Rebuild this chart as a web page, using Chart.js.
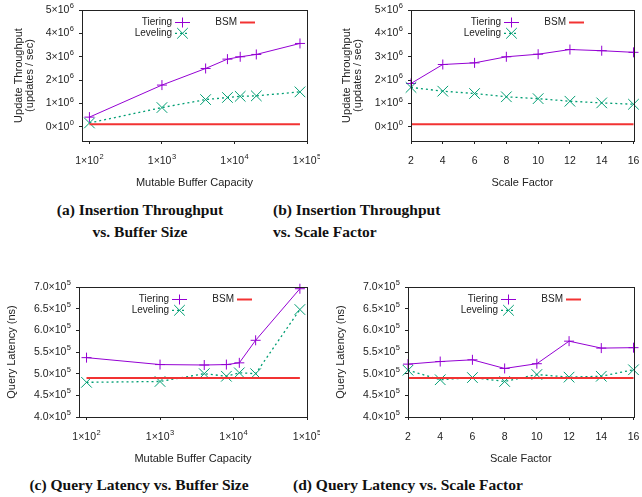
<!DOCTYPE html>
<html>
<head>
<meta charset="utf-8">
<script src="https://cdn.jsdelivr.net/npm/chart.js@4/dist/chart.umd.min.js"></script>
<style>
  body { margin: 0; background: #fff; width: 642px; height: 497px; overflow: hidden; position: relative; }
  .box { position: absolute; }
  .cap { position: absolute; font-family: "Liberation Serif", serif; font-weight: bold; font-size: 15.5px; line-height: 22px; color: #111; white-space: nowrap; }
</style>
</head>
<body>
<div class="box" style="left:0;top:0;width:320px;height:196px"><canvas id="chartA"></canvas></div>
<div class="box" style="left:320px;top:0;width:322px;height:196px"><canvas id="chartB"></canvas></div>
<div class="box" style="left:0;top:277px;width:320px;height:195px"><canvas id="chartC"></canvas></div>
<div class="box" style="left:320px;top:277px;width:322px;height:195px"><canvas id="chartD"></canvas></div>

<div class="cap" style="left:30px;top:199px;width:220px;text-align:center">(a) Insertion Throughput<br>vs. Buffer Size</div>
<div class="cap" style="left:273px;top:199px">(b) Insertion Throughput<br>vs. Scale Factor</div>
<div class="cap" style="left:19px;top:474px;width:240px;text-align:center">(c) Query Latency vs. Buffer Size</div>
<div class="cap" style="left:293px;top:474px">(d) Query Latency vs. Scale Factor</div>

<script>
// x values
const bufferSizes = [100, 1000, 4000, 8000, 12000, 20000, 80000];
const scaleFactors = [2, 4, 6, 8, 10, 12, 14, 16];

// (a) throughput vs buffer size
const tputBufTiering = [420000, 1790000, 2500000, 2900000, 3000000, 3100000, 3570000];
const tputBufLeveling = [170000, 830000, 1170000, 1260000, 1310000, 1330000, 1500000];
const tputBufBSM = [120000, 120000, 120000, 120000, 120000, 120000, 120000];

// (b) throughput vs scale factor
const tputSfTiering = [1860000, 2670000, 2740000, 3000000, 3110000, 3310000, 3260000, 3190000];
const tputSfLeveling = [1690000, 1530000, 1430000, 1290000, 1210000, 1100000, 1030000, 970000];
const tputSfBSM = [120000, 120000, 120000, 120000, 120000, 120000, 120000, 120000];

// (c) latency vs buffer size
const latBufTiering = [537000, 521000, 520000, 521000, 525000, 577000, 696000];
const latBufLeveling = [480000, 482000, 500000, 494000, 502000, 500000, 648000];
const latBufBSM = [490000, 490000, 490000, 490000, 490000, 490000, 490000];

// (d) latency vs scale factor
const latSfTiering = [522000, 528000, 532000, 512000, 523000, 575000, 559000, 560000];
const latSfLeveling = [508000, 486000, 491000, 482000, 498000, 492000, 494000, 509000];
const latSfBSM = [490000, 490000, 490000, 490000, 490000, 490000, 490000, 490000];

// ticks ("^" marks the exponent)
const logTicks = [100, 1000, 10000, 100000];
const logTickLabels = ["1×10^2", "1×10^3", "1×10^4", "1×10^5"];
const sfTickLabels = ["2", "4", "6", "8", "10", "12", "14", "16"];
const tputTicks = [0, 1000000, 2000000, 3000000, 4000000, 5000000];
const tputTickLabels = ["0×10^0", "1×10^6", "2×10^6", "3×10^6", "4×10^6", "5×10^6"];
const latTicks = [400000, 450000, 500000, 550000, 600000, 650000, 700000];
const latTickLabels = ["4.0×10^5", "4.5×10^5", "5.0×10^5", "5.5×10^5", "6.0×10^5", "6.5×10^5", "7.0×10^5"];

const titleFont = { family: "Liberation Sans", size: 11, lineHeight: 1.0 };
const ink = "#222";
const TIER = "#9400d3", LEVEL = "#009e73", BSMC = "#f23333";

function pairs(xs, ys) {
  return xs.map((x, i) => ({ x: x, y: ys[i] }));
}

// box round the plot
const framePlugin = {
  id: "frame",
  afterDatasetsDraw(chart) {
    const { ctx, chartArea: a } = chart;
    ctx.save();
    ctx.strokeStyle = "#222";
    ctx.lineWidth = 1;
    ctx.strokeRect(Math.round(a.left) + 0.5, Math.round(a.top) + 0.5,
      Math.round(a.right - a.left), Math.round(a.bottom - a.top));
    ctx.restore();
  }
};

// tick labels with raised exponents
const supTicksPlugin = {
  id: "supTicks",
  afterDraw(chart, args, opts) {
    const { ctx, chartArea: a } = chart;
    const big = '10.5px "Liberation Sans"', small = '7.5px "Liberation Sans"';
    ctx.save();
    ctx.fillStyle = ink;
    ctx.textBaseline = "middle";
    ctx.textAlign = "left";
    const draw = (label, anchor, y, mode) => {
      const [base, exp] = label.split("^");
      ctx.font = big;
      const w1 = ctx.measureText(base).width;
      ctx.font = small;
      const w2 = exp ? ctx.measureText(exp).width + 0.5 : 0;
      const left = mode === "center" ? anchor - (w1 + w2) / 2 : anchor - (w1 + w2);
      ctx.font = big;
      ctx.fillText(base, left, y);
      if (exp) {
        ctx.font = small;
        ctx.fillText(exp, left + w1 + 0.5, y - 4);
      }
    };
    const sx = chart.scales.x, sy = chart.scales.y;
    sx.ticks.forEach((t, i) => draw(opts.x[i], sx.getPixelForValue(t.value), a.bottom + 20, "center"));
    sy.ticks.forEach((t, i) => draw(opts.y[i], a.left - 8, sy.getPixelForValue(t.value), "right"));
    ctx.restore();
  }
};

// gnuplot-like key inside the plot
const keyPlugin = {
  id: "key",
  afterDatasetsDraw(chart) {
    const { ctx, chartArea: a } = chart;
    const spots = [[90, 12.5], [90, 23.3], [155, 12.5]];
    ctx.save();
    chart.data.datasets.forEach((d, i) => {
      const x = a.left + spots[i][0], y = a.top + spots[i][1];
      ctx.font = '10px "Liberation Sans"';
      ctx.textAlign = "right";
      ctx.textBaseline = "middle";
      ctx.fillStyle = ink;
      ctx.fillText(d.label, x, y);
      ctx.strokeStyle = d.borderColor;
      ctx.lineWidth = d.borderWidth;
      ctx.setLineDash(d.borderDash || []);
      ctx.beginPath();
      ctx.moveTo(x + 3, y);
      ctx.lineTo(x + 18, y);
      ctx.stroke();
      ctx.setLineDash([]);
      const cx = x + 10.5;
      ctx.lineWidth = 1;
      ctx.beginPath();
      if (d.pointStyle === "cross") {
        ctx.moveTo(cx - 5, y); ctx.lineTo(cx + 5, y);
        ctx.moveTo(cx, y - 5); ctx.lineTo(cx, y + 5);
      } else if (d.pointStyle === "crossRot") {
        ctx.moveTo(cx - 5.3, y - 5.3); ctx.lineTo(cx + 5.3, y + 5.3);
        ctx.moveTo(cx - 5.3, y + 5.3); ctx.lineTo(cx + 5.3, y - 5.3);
      }
      ctx.stroke();
    });
    ctx.restore();
  }
};

function makeChart(id, cfg) {
  const isLog = cfg.xs === bufferSizes;
  const yt = cfg.yTicks;
  return new Chart(document.getElementById(id), {
    type: "line",
    data: {
      datasets: [
        {
          label: "Tiering", data: pairs(cfg.xs, cfg.tiering),
          borderColor: TIER, pointBorderColor: TIER, pointBackgroundColor: TIER,
          borderWidth: 1, pointStyle: "cross",
          pointRadius: 5, pointBorderWidth: 1, tension: 0, clip: false, order: 3
        },
        {
          label: "Leveling", data: pairs(cfg.xs, cfg.leveling),
          borderColor: LEVEL, pointBorderColor: LEVEL, pointBackgroundColor: LEVEL,
          borderWidth: 1.3, borderDash: [2, 3], pointStyle: "crossRot",
          pointRadius: 7.5, pointBorderWidth: 1, tension: 0, clip: false, order: 2
        },
        {
          label: "BSM", data: pairs(cfg.xs, cfg.bsm),
          borderColor: BSMC, borderWidth: 2, pointRadius: 0, pointStyle: false,
          tension: 0, clip: false, order: 1
        }
      ]
    },
    options: {
      responsive: true,
      maintainAspectRatio: false,
      animation: false,
      layout: { padding: { top: 10, right: cfg.right, left: 0, bottom: 0 } },
      plugins: {
        legend: { display: false },
        tooltip: { enabled: false },
        supTicks: { x: isLog ? logTickLabels : sfTickLabels, y: cfg.yTickLabels }
      },
      scales: {
        x: {
          type: isLog ? "logarithmic" : "linear",
          min: isLog ? 79 : 2,
          max: isLog ? 100000 : 16,
          afterBuildTicks: s => { s.ticks = (isLog ? logTicks : scaleFactors).map(v => ({ value: v })); },
          afterFit: s => { s.height = 55; },
          border: { display: false },
          grid: { drawOnChartArea: false, drawTicks: true, tickLength: 3, color: "#222" },
          ticks: { autoSkip: false, maxRotation: 0, padding: 0, callback: () => "" },
          title: { display: true, text: cfg.xTitle, font: titleFont, color: ink, padding: { top: 0, bottom: 8 } }
        },
        y: {
          min: cfg.yMin, max: cfg.yMax,
          afterBuildTicks: s => { s.ticks = yt.map(v => ({ value: v })); },
          afterFit: s => { s.width = cfg.yWidth; },
          border: { display: false },
          grid: { drawOnChartArea: false, drawTicks: true, tickLength: 3, color: "#222" },
          ticks: { autoSkip: false, padding: 0, callback: () => "" },
          title: { display: true, text: cfg.yTitle, font: titleFont, color: ink, padding: { top: cfg.yTitlePad, bottom: 0 } }
        }
      }
    },
    plugins: [framePlugin, keyPlugin, supTicksPlugin]
  });
}

makeChart("chartA", {
  xs: bufferSizes, tiering: tputBufTiering, leveling: tputBufLeveling, bsm: tputBufBSM,
  yMin: -600000, yMax: 5000000, yTicks: tputTicks, yTickLabels: tputTickLabels,
  xTitle: "Mutable Buffer Capacity", yTitle: ["Update Throughput", "(updates / sec)"],
  yWidth: 82, right: 13, yTitlePad: 13
});
makeChart("chartB", {
  xs: scaleFactors, tiering: tputSfTiering, leveling: tputSfLeveling, bsm: tputSfBSM,
  yMin: -600000, yMax: 5000000, yTicks: tputTicks, yTickLabels: tputTickLabels,
  xTitle: "Scale Factor", yTitle: ["Update Throughput", "(updates / sec)"],
  yWidth: 91, right: 6, yTitlePad: 21
});
makeChart("chartC", {
  xs: bufferSizes, tiering: latBufTiering, leveling: latBufLeveling, bsm: latBufBSM,
  yMin: 400000, yMax: 700000, yTicks: latTicks, yTickLabels: latTickLabels,
  xTitle: "Mutable Buffer Capacity", yTitle: "Query Latency (ns)",
  yWidth: 79, right: 13, yTitlePad: 6
});
makeChart("chartD", {
  xs: scaleFactors, tiering: latSfTiering, leveling: latSfLeveling, bsm: latSfBSM,
  yMin: 400000, yMax: 700000, yTicks: latTicks, yTickLabels: latTickLabels,
  xTitle: "Scale Factor", yTitle: "Query Latency (ns)",
  yWidth: 88, right: 6, yTitlePad: 15
});
</script>
</body>
</html>
